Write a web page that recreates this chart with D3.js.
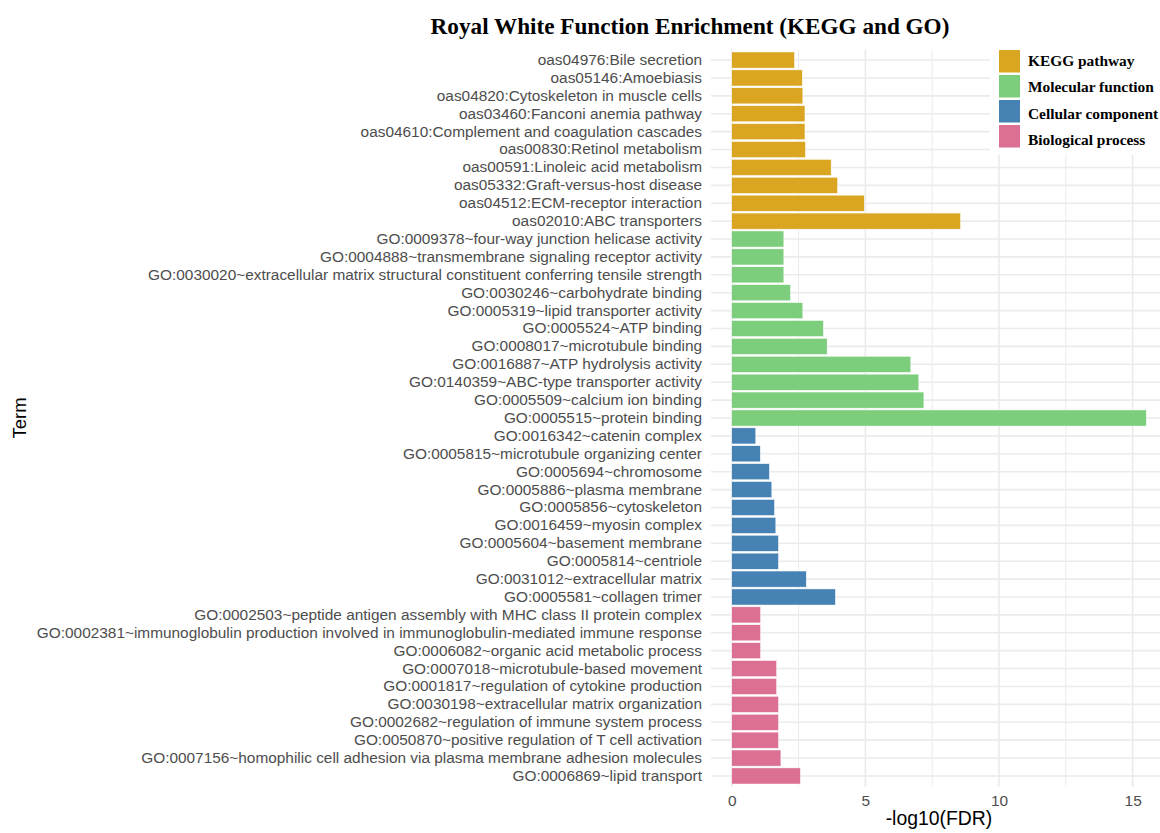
<!DOCTYPE html>
<html>
<head>
<meta charset="utf-8">
<script src="https://cdn.jsdelivr.net/npm/d3@7"></script>
<style>
  html, body { margin: 0; padding: 0; background: #fff; }
  svg { display: block; }
</style>
</head>
<body>
<div id="chart"></div>
<script>
// Enrichment terms, listed top to bottom
const terms = [
  "oas04976:Bile secretion",
  "oas05146:Amoebiasis",
  "oas04820:Cytoskeleton in muscle cells",
  "oas03460:Fanconi anemia pathway",
  "oas04610:Complement and coagulation cascades",
  "oas00830:Retinol metabolism",
  "oas00591:Linoleic acid metabolism",
  "oas05332:Graft-versus-host disease",
  "oas04512:ECM-receptor interaction",
  "oas02010:ABC transporters",
  "GO:0009378~four-way junction helicase activity",
  "GO:0004888~transmembrane signaling receptor activity",
  "GO:0030020~extracellular matrix structural constituent conferring tensile strength",
  "GO:0030246~carbohydrate binding",
  "GO:0005319~lipid transporter activity",
  "GO:0005524~ATP binding",
  "GO:0008017~microtubule binding",
  "GO:0016887~ATP hydrolysis activity",
  "GO:0140359~ABC-type transporter activity",
  "GO:0005509~calcium ion binding",
  "GO:0005515~protein binding",
  "GO:0016342~catenin complex",
  "GO:0005815~microtubule organizing center",
  "GO:0005694~chromosome",
  "GO:0005886~plasma membrane",
  "GO:0005856~cytoskeleton",
  "GO:0016459~myosin complex",
  "GO:0005604~basement membrane",
  "GO:0005814~centriole",
  "GO:0031012~extracellular matrix",
  "GO:0005581~collagen trimer",
  "GO:0002503~peptide antigen assembly with MHC class II protein complex",
  "GO:0002381~immunoglobulin production involved in immunoglobulin-mediated immune response",
  "GO:0006082~organic acid metabolic process",
  "GO:0007018~microtubule-based movement",
  "GO:0001817~regulation of cytokine production",
  "GO:0030198~extracellular matrix organization",
  "GO:0002682~regulation of immune system process",
  "GO:0050870~positive regulation of T cell activation",
  "GO:0007156~homophilic cell adhesion via plasma membrane adhesion molecules",
  "GO:0006869~lipid transport"
];

// -log10(FDR) for each term
const negLogFDR = [
  2.35, 2.64, 2.66, 2.74, 2.74, 2.76, 3.72, 3.96, 4.96, 8.56,
  1.95, 1.95, 1.95, 2.20, 2.66, 3.43, 3.57, 6.70, 7.00, 7.19, 15.51,
  0.90, 1.07, 1.41, 1.50, 1.60, 1.65, 1.75, 1.75, 2.79, 3.88,
  1.08, 1.08, 1.08, 1.68, 1.68, 1.75, 1.75, 1.75, 1.84, 2.57
];

// Category of each term
const categoryOf = [
  ...Array(10).fill("KEGG pathway"),
  ...Array(11).fill("Molecular function"),
  ...Array(10).fill("Cellular component"),
  ...Array(10).fill("Biological process")
];

const categories = ["KEGG pathway", "Molecular function", "Cellular component", "Biological process"];
const categoryColors = ["#DAA520", "#7CCD7C", "#4682B4", "#DB7093"];
const xTicks = [0, 5, 10, 15];
const xMinorTicks = [2.5, 7.5, 12.5];

const data = terms.map((t, i) => ({ term: t, value: negLogFDR[i], cat: categoryOf[i] }));

const W = 1160, H = 833;
const panel = { left: 711, right: 1167, top: 49.3, bottom: 786.7 };
const sans = "'Liberation Sans', Arial, sans-serif";
const serif = "'Liberation Serif', 'Times New Roman', serif";

const svg = d3.select("#chart").append("svg")
  .attr("width", W).attr("height", H)
  .style("font-family", sans);

const maxV = d3.max(negLogFDR);
const x = d3.scaleLinear()
  .domain([-0.05 * maxV, 1.05 * maxV])
  .range([panel.left, panel.right]);

const y = d3.scaleBand()
  .domain(terms)
  .range([panel.top, panel.bottom])
  .paddingInner(0.1)
  .paddingOuter(0.15);

const color = d3.scaleOrdinal().domain(categories).range(categoryColors);

// grid
const grid = svg.append("g");
grid.selectAll("line.minor").data(xMinorTicks).join("line")
  .attr("x1", d => x(d)).attr("x2", d => x(d))
  .attr("y1", panel.top).attr("y2", panel.bottom)
  .attr("stroke", "#ebebeb").attr("stroke-width", 1);
grid.selectAll("line.major").data(xTicks).join("line")
  .attr("x1", d => x(d)).attr("x2", d => x(d))
  .attr("y1", panel.top).attr("y2", panel.bottom)
  .attr("stroke", "#ebebeb").attr("stroke-width", 1.6);
grid.selectAll("line.h").data(terms).join("line")
  .attr("x1", panel.left).attr("x2", panel.right)
  .attr("y1", d => y(d) + y.bandwidth() / 2).attr("y2", d => y(d) + y.bandwidth() / 2)
  .attr("stroke", "#ebebeb").attr("stroke-width", 1.6);

// bars
svg.append("g").selectAll("rect").data(data).join("rect")
  .attr("x", x(0))
  .attr("y", d => y(d.term))
  .attr("width", d => x(d.value) - x(0))
  .attr("height", y.bandwidth())
  .attr("fill", d => color(d.cat))
  .attr("stroke", "#ffffff").attr("stroke-width", 0.5);

// y axis labels
const yAxis = d3.axisLeft(y).tickSize(0).tickPadding(9);
const yg = svg.append("g").attr("transform", `translate(${panel.left},0)`).call(yAxis);
yg.select(".domain").remove();
yg.selectAll("text").attr("fill", "#4d4d4d").style("font-size", "15.4px")
  .style("font-family", sans);

// x axis
const xAxis = d3.axisBottom(x).tickValues(xTicks).tickSize(0).tickPadding(8);
const xg = svg.append("g").attr("transform", `translate(0,${panel.bottom})`).call(xAxis);
xg.select(".domain").remove();
xg.selectAll("text").attr("fill", "#4d4d4d").style("font-size", "15.4px")
  .style("font-family", sans);

// axis titles
svg.append("text")
  .attr("x", (panel.left + panel.right) / 2).attr("y", 825)
  .attr("text-anchor", "middle").attr("fill", "#000")
  .style("font-size", "19.4px").text("-log10(FDR)");
svg.append("text")
  .attr("transform", `translate(26,${(panel.top + panel.bottom) / 2}) rotate(-90)`)
  .attr("text-anchor", "middle").attr("fill", "#000")
  .style("font-size", "18.5px").text("Term");

// title
svg.append("text")
  .attr("x", 690).attr("y", 34)
  .attr("text-anchor", "middle").attr("fill", "#000")
  .style("font-family", serif)
  .style("font-weight", "bold").style("font-size", "23.2px")
  .text("Royal White Function Enrichment (KEGG and GO)");

// legend
const lg = svg.append("g");
lg.append("rect").attr("x", 990).attr("y", 40).attr("width", 170).attr("height", 115).attr("fill", "#fff");
const items = lg.selectAll("g.item").data(categories).join("g");
items.append("rect")
  .attr("x", 999).attr("y", (d, i) => 50 + i * 25)
  .attr("width", 21).attr("height", 22.5).attr("fill", d => color(d));
items.append("text")
  .attr("x", 1028).attr("y", (d, i) => 66 + i * 26.4)
  .style("font-family", serif)
  .style("font-weight", "bold").style("font-size", "15.4px").attr("fill", "#000")
  .text(d => d);
</script>
</body>
</html>
